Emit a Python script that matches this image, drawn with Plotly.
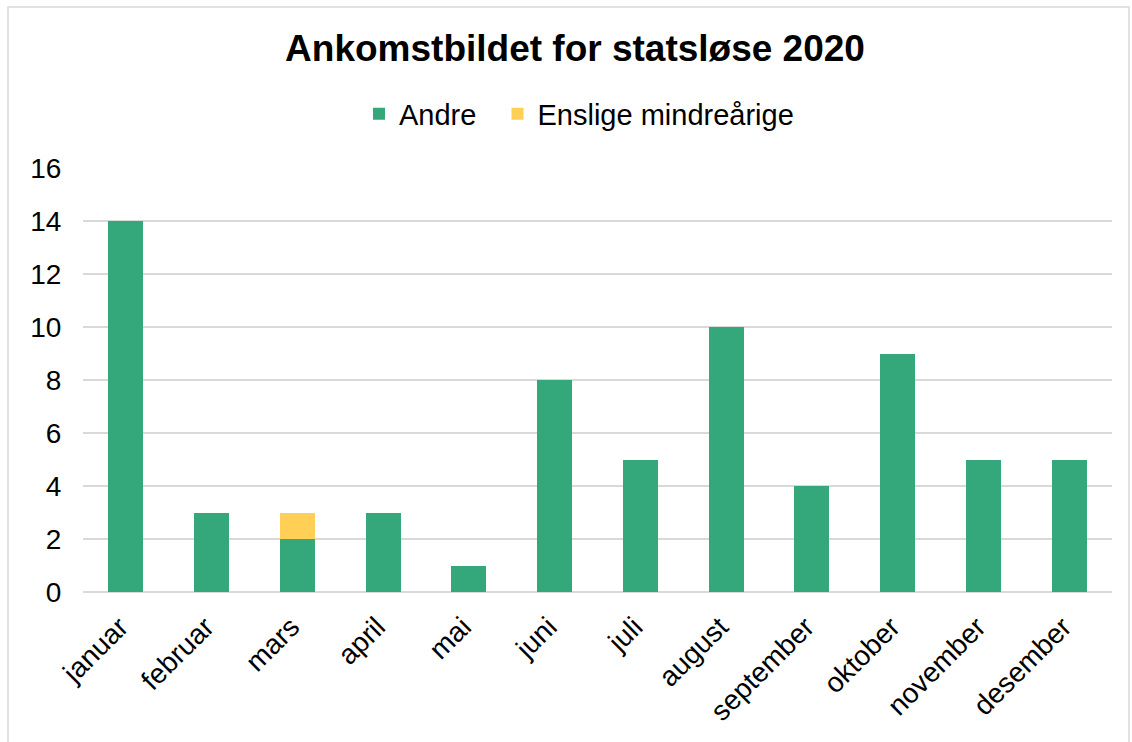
import plotly.graph_objects as go

months = ["januar", "februar", "mars", "april", "mai", "juni", "juli",
          "august", "september", "oktober", "november", "desember"]
andre = [14, 3, 2, 3, 1, 8, 5, 10, 4, 9, 5, 5]
enslige = [0, 0, 1, 0, 0, 0, 0, 0, 0, 0, 0, 0]

W, H = 1132, 742
L, R, T, B = 83, 20, 168, 150
pw, ph = W - L - R, H - T - B

fig = go.Figure()
fig.add_trace(go.Bar(x=months, y=andre, name="Andre\u00a0\u00a0",
                     marker=dict(color="#34A87B", line=dict(width=0))))
fig.add_trace(go.Bar(x=months, y=enslige, name="Enslige mindreårige",
                     marker=dict(color="#FFCF56", line=dict(width=0))))

fig.update_layout(
    width=W, height=H,
    barmode="stack", bargap=0.59,
    margin=dict(l=L, r=R, t=T, b=B),
    paper_bgcolor="white", plot_bgcolor="white",
    font=dict(family="Liberation Sans, Arial", size=29, color="black"),
    title=dict(text="<b>Ankomstbildet for statsløse 2020</b>", x=575 / W, xanchor="center",
               y=1 - 48 / H, yanchor="middle", font=dict(size=37)),
    legend=dict(orientation="h", x=(579 - L) / pw, xanchor="center", y=1 - 114 / H,
                yanchor="middle", yref="container", font=dict(size=29), itemwidth=30,
                traceorder="normal"),
    showlegend=True,
)
fig.update_xaxes(tickangle=-45, showgrid=False, showline=False, ticks="",
                 tickfont=dict(size=28), ticklabelstandoff=12, ticklabelshift=-6)
fig.update_yaxes(range=[0, 16], dtick=2, showgrid=True, gridcolor="#d9d9d9", gridwidth=1.5,
                 zeroline=True, zerolinecolor="#d9d9d9", zerolinewidth=1.5,
                 ticks="outside", ticklen=15, tickcolor="white", tickfont=dict(size=28))

fig.add_shape(type="rect", xref="paper", yref="paper",
              x0=(8 - L) / pw, x1=(W - 3 - L) / pw,
              y0=(H - T - 741) / ph, y1=(H - B - 7) / ph,
              line=dict(color="#d9d9d9", width=1.5), fillcolor="rgba(0,0,0,0)", layer="below")

fig.write_html("out.html", config={"displayModeBar": False},
               post_script="document.body.style.margin='0';document.body.style.overflow='hidden';")
